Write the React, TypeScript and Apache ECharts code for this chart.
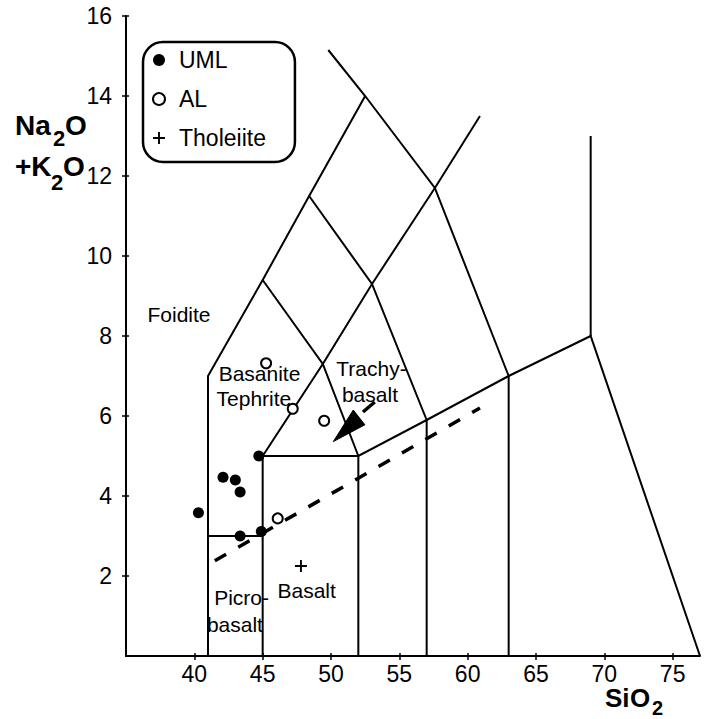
import React, { useEffect, useRef } from 'react';
import * as echarts from 'echarts';

const FONT = '"Liberation Sans", Arial, Helvetica, sans-serif';

// Tick labels
const X_TICKS = [40, 45, 50, 55, 60, 65, 70, 75];
const Y_TICKS = [2, 4, 6, 8, 10, 12, 14, 16];

// Sample data (SiO2, Na2O+K2O)
const UML = [
  [40.3, 3.58],
  [42.1, 4.47],
  [43.0, 4.4],
  [43.35, 4.1],
  [44.72, 5.0],
  [43.35, 3.0],
  [44.9, 3.11],
];
const AL = [
  [45.25, 7.32],
  [47.2, 6.18],
  [49.5, 5.88],
  [46.1, 3.44],
];
const THOLEIITE = [[47.8, 2.25]];

// TAS field boundaries
const B_FOIDITE_EDGE = [[41, 0], [41, 7], [45, 9.4], [48.4, 11.5], [52.5, 14]];
const B_TEPHRITE_TOP = [[45, 9.4], [49.4, 7.3], [52, 5]];
const B_PHONOTEPHRITE_TOP = [[48.4, 11.5], [53, 9.3], [57, 5.9]];
const B_TEPHRIPHONOLITE_TOP = [[49.8, 15.15], [52.5, 14], [57.6, 11.7], [63, 7]];
const B_TRACHY_CHAIN = [[45, 5], [49.4, 7.3], [53, 9.3], [57.6, 11.7], [60.9, 13.5]];
const B_PICRO_TOP = [[41, 3], [45, 3]];
const B_SUBALKALINE = [[45, 0], [45, 5], [52, 5], [57, 5.9], [63, 7], [69, 8], [77, 0]];
const B_52 = [[52, 0], [52, 5]];
const B_57 = [[57, 0], [57, 5.9]];
const B_63 = [[63, 0], [63, 7]];
const B_69 = [[69, 8], [69, 13]];
const BOUNDARIES = [
  B_FOIDITE_EDGE, B_TEPHRITE_TOP, B_PHONOTEPHRITE_TOP, B_TEPHRIPHONOLITE_TOP,
  B_TRACHY_CHAIN, B_PICRO_TOP, B_SUBALKALINE, B_52, B_57, B_63, B_69,
];

// Trend line and arrow
const DASHED_TREND = [[41.5, 2.38], [60.9, 6.2]];
const ARROW_HEAD = [[50.17, 5.36], [51.63, 6.15], [52.48, 5.78]];
const ARROW_SHAFT = [[52.34, 6.1], [53.2, 6.35]];

// Field names and their anchor positions (data units)
const REGION_NAMES = ['Foidite', 'Basanite', 'Tephrite', 'Trachy-', 'basalt', 'Picro-', 'basalt', 'Basalt'];
const REGION_POS = [
  [38.88, 8.55],
  [44.77, 7.06],
  [44.36, 6.44],
  [52.96, 7.18],
  [52.85, 6.55],
  [43.46, 1.46],
  [42.97, 0.8],
  [48.22, 1.65],
];

const PLUS = 'path://M42,0h16v42h42v16h-42v42h-16v-42h-42v-16h42z';

export default function App() {
  const ref = useRef<HTMLDivElement>(null);
  useEffect(() => {
    if (!ref.current) return;
    const chart = echarts.init(ref.current, null, { renderer: 'svg' });
    const axisLabelBase = { color: '#000', fontSize: 23, fontFamily: FONT };
    const titleText = (text: string, x: number, y: number, size: number) => ({
      type: 'text',
      x,
      y,
      style: {
        text,
        fontSize: size,
        fontWeight: 'bold',
        fontFamily: FONT,
        fill: '#000',
        align: 'left',
        verticalAlign: 'middle',
      },
    });
    chart.setOption({
      animation: false,
      backgroundColor: '#fff',
      textStyle: { fontFamily: FONT },
      grid: { left: 126, right: 7, top: 16, bottom: 63, containLabel: false },
      xAxis: [
        {
          type: 'value',
          min: 35,
          max: 77,
          interval: 5,
          axisLine: { show: true, onZero: false, lineStyle: { color: '#000', width: 2 } },
          axisTick: { show: true, inside: false, length: 4, customValues: X_TICKS, lineStyle: { color: '#000', width: 1.5 } },
          axisLabel: {
            ...axisLabelBase,
            margin: 6,
            customValues: X_TICKS,
            formatter: (v: number) => (X_TICKS.includes(v) ? String(v) : ''),
          },
          splitLine: { show: false },
        },
        {
          type: 'value',
          position: 'bottom',
          min: 35,
          max: 77,
          interval: 5,
          axisLine: { show: false },
          axisTick: { show: true, inside: true, length: 3, customValues: X_TICKS, lineStyle: { color: '#000', width: 1.5 } },
          axisLabel: { show: false },
          splitLine: { show: false },
        },
      ],
      yAxis: [
        {
          type: 'value',
          min: 0,
          max: 16,
          interval: 2,
          axisLine: { show: true, onZero: false, lineStyle: { color: '#000', width: 2 } },
          axisTick: { show: true, inside: false, length: 4, customValues: Y_TICKS, lineStyle: { color: '#000', width: 1.5 } },
          axisLabel: {
            ...axisLabelBase,
            margin: 14,
            customValues: Y_TICKS,
            formatter: (v: number) => (Y_TICKS.includes(v) ? String(v) : ''),
          },
          splitLine: { show: false },
        },
        {
          type: 'value',
          position: 'left',
          min: 0,
          max: 16,
          interval: 2,
          axisLine: { show: false },
          axisTick: { show: true, inside: true, length: 3, customValues: Y_TICKS, lineStyle: { color: '#000', width: 1.5 } },
          axisLabel: { show: false },
          splitLine: { show: false },
        },
      ],
      legend: {
        data: ['UML', 'AL', 'Tholeiite'],
        orient: 'vertical',
        left: 143,
        top: 42,
        align: 'left',
        padding: [6, 29, 12, 9],
        itemGap: 15,
        itemWidth: 30,
        itemHeight: 12,
        borderColor: '#000',
        borderWidth: 2.5,
        borderRadius: 20,
        backgroundColor: '#fff',
        selectedMode: false,
        textStyle: { fontSize: 23, fontFamily: FONT, color: '#000', lineHeight: 24 },
      },
      graphic: [
        titleText('Na', 15, 125, 28),
        titleText('2', 53, 138.5, 22),
        titleText('O', 65, 125, 28),
        titleText('+K', 15, 166, 28),
        titleText('2', 51, 182, 22),
        titleText('O', 63, 166, 28),
        titleText('Si', 605, 698, 26),
        titleText('O', 630, 698, 26),
        titleText('2', 652, 708, 20),
      ],
      series: [
        {
          name: 'boundaries',
          type: 'lines',
          coordinateSystem: 'cartesian2d',
          polyline: true,
          silent: true,
          z: 2,
          lineStyle: { color: '#000', width: 2, opacity: 1 },
          data: BOUNDARIES.map((c) => ({ coords: c })),
        },
        {
          name: 'trend',
          type: 'lines',
          coordinateSystem: 'cartesian2d',
          polyline: true,
          silent: true,
          z: 3,
          lineStyle: { color: '#000', width: 3.5, opacity: 1, type: [13, 14], cap: 'butt' },
          data: [{ coords: DASHED_TREND }],
        },
        {
          name: 'arrow',
          type: 'custom',
          silent: true,
          z: 4,
          data: [ARROW_HEAD[0]],
          renderItem: (_params: any, api: any) => {
            const pts = ARROW_HEAD.map((p) => api.coord(p));
            const s = ARROW_SHAFT.map((p) => api.coord(p));
            return {
              type: 'group',
              children: [
                { type: 'polygon', shape: { points: pts }, style: { fill: '#000', stroke: '#000', lineWidth: 1 } },
                {
                  type: 'line',
                  shape: { x1: s[0][0], y1: s[0][1], x2: s[1][0], y2: s[1][1] },
                  style: { stroke: '#000', lineWidth: 3.5 },
                },
              ],
            };
          },
        },
        {
          name: 'fields',
          type: 'custom',
          silent: true,
          z: 4,
          data: REGION_POS,
          renderItem: (params: any, api: any) => {
            const p = api.coord([api.value(0), api.value(1)]);
            return {
              type: 'text',
              x: p[0],
              y: p[1],
              style: {
                text: REGION_NAMES[params.dataIndex],
                fontSize: 21,
                fontFamily: FONT,
                fill: '#000',
                align: 'center',
                verticalAlign: 'middle',
              },
            };
          },
        },
        {
          name: 'UML',
          type: 'scatter',
          symbol: 'circle',
          symbolSize: 11,
          z: 6,
          itemStyle: { color: '#000', opacity: 1 },
          data: UML,
        },
        {
          name: 'AL',
          type: 'scatter',
          symbol: 'emptyCircle',
          symbolSize: 10,
          z: 6,
          itemStyle: { color: '#000', borderColor: '#000', borderWidth: 1.5, opacity: 1 },
          data: AL,
        },
        {
          name: 'Tholeiite',
          type: 'scatter',
          symbol: PLUS,
          symbolSize: 12,
          z: 6,
          itemStyle: { color: '#000', opacity: 1 },
          data: THOLEIITE,
        },
      ],
    });
    return () => chart.dispose();
  }, []);
  return (
    <div
      ref={ref}
      style={{ position: 'fixed', left: 0, top: 0, width: 707, height: 719, background: '#fff' }}
    />
  );
}
